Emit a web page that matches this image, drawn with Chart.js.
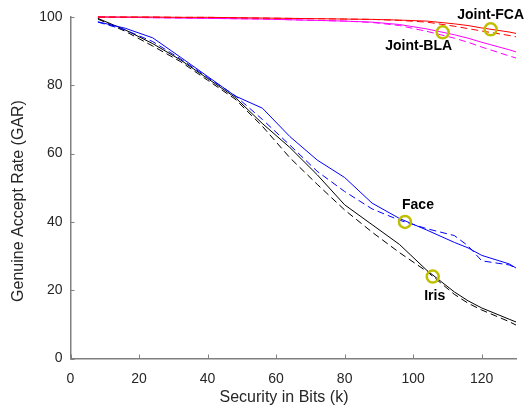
<!DOCTYPE html>
<html>
<head>
<meta charset="utf-8">
<script src="https://cdn.jsdelivr.net/npm/chart.js@4.4.1/dist/chart.umd.min.js"></script>
<style>
  html, body { margin: 0; padding: 0; background: #fff; }
  #wrap { width: 532px; height: 408px; }
</style>
</head>
<body>
<div id="wrap"><canvas id="garChart" width="532" height="408"></canvas></div>
<script>
// security in bits (x values shared by every curve)
const kBits = [8, 16, 24, 32, 40, 48, 56, 64, 72, 80, 88, 96, 104, 112, 116, 120, 128, 130];

// GAR curves
const irisSolid  = [99.6, 96.2, 92.2, 87.5, 82.0, 76.5, 68.8, 61.8, 53.8, 45.0, 39.2, 33.4, 25.8, 19.5, 16.9, 14.8, 11.5, 10.7];
const irisDashed = [99.4, 95.8, 91.5, 87.0, 81.5, 76.0, 68.0, 58.8, 51.0, 43.5, 37.0, 31.0, 25.5, 18.8, 16.2, 14.2, 10.8, 9.8];
const faceSolid  = [98.6, 96.7, 93.9, 88.3, 82.6, 76.9, 73.3, 65.0, 58.1, 53.0, 45.5, 41.0, 37.6, 34.0, 32.4, 30.2, 27.7, 26.5];
const faceDashed = [98.5, 96.2, 92.8, 87.8, 82.3, 77.0, 70.0, 62.5, 54.8, 48.9, 43.8, 40.5, 38.0, 36.0, 33.0, 28.6, 27.4, 26.5];
const fcaSolid   = [100, 100, 100, 99.9, 99.9, 99.8, 99.7, 99.6, 99.5, 99.4, 99.3, 99.1, 98.8, 98.0, 97.5, 96.8, 95.6, 95.2];
const fcaDashed  = [100, 100, 100, 99.9, 99.9, 99.8, 99.7, 99.6, 99.5, 99.4, 99.3, 99.0, 98.5, 97.3, 96.6, 95.9, 94.6, 94.2];
const blaSolid   = [100, 99.9, 99.8, 99.7, 99.6, 99.5, 99.4, 99.2, 99.0, 98.8, 98.5, 97.8, 96.5, 94.8, 93.8, 92.6, 90.4, 89.8];
const blaDashed  = [100, 99.9, 99.8, 99.7, 99.6, 99.5, 99.4, 99.2, 99.0, 98.8, 98.4, 97.5, 95.8, 93.8, 92.6, 91.2, 88.6, 88.0];

// annotated operating points
const markerNames = ["Joint-FCA", "Joint-BLA", "Face", "Iris"];
const markerK     = [122.6, 108.6, 97.6, 105.7];
const markerGar   = [96.4, 95.5, 40.0, 24.0];

// axis ticks
const xTickVals = [0, 20, 40, 60, 80, 100, 120];
const yTickVals = [0, 20, 40, 60, 80, 100];

const AXIS_GREY = "#808080";
const FONT = "'Liberation Sans', Arial, Helvetica, sans-serif";

function pts(ys) {
    return kBits.map((k, i) => ({ x: k, y: ys[i] }));
}

function curve(ys, color, dashed) {
    return {
        type: "line",
        data: pts(ys),
        borderColor: color,
        borderWidth: 1,
        borderDash: dashed ? [7, 4] : [],
        pointRadius: 0,
        fill: false,
        tension: 0,
        clip: 6,
    };
}

// label offsets from each marker, in pixels
const labelOffsets = [[0, -14], [-24, 14], [13, -17], [2, 20]];

const innerTicks = {
    id: "innerTicks",
    beforeDatasetsDraw(chart) {
        const ctx = chart.ctx;
        const xs = chart.scales.x, ys = chart.scales.y;
        const area = chart.chartArea;
        ctx.save();
        ctx.strokeStyle = AXIS_GREY;
        ctx.lineWidth = 1;
        ctx.beginPath();
        xTickVals.forEach(v => {
            const px = Math.round(xs.getPixelForValue(v)) + 0.5;
            ctx.moveTo(px, area.bottom);
            ctx.lineTo(px, area.bottom - 4);
        });
        yTickVals.forEach(v => {
            const py = Math.round(ys.getPixelForValue(v)) + 0.5;
            ctx.moveTo(area.left, py);
            ctx.lineTo(area.left + 4, py);
        });
        ctx.stroke();
        ctx.restore();
    }
};

const markerLabels = {
    id: "markerLabels",
    afterDatasetsDraw(chart) {
        const ctx = chart.ctx;
        const xs = chart.scales.x, ys = chart.scales.y;
        ctx.save();
        ctx.fillStyle = "#000";
        ctx.font = "bold 14px " + FONT;
        ctx.textAlign = "center";
        ctx.textBaseline = "middle";
        markerNames.forEach((name, i) => {
            const px = xs.getPixelForValue(markerK[i]) + labelOffsets[i][0];
            const py = ys.getPixelForValue(markerGar[i]) + labelOffsets[i][1];
            ctx.fillText(name, px, py);
        });

        // axis titles
        ctx.font = "16px " + FONT;
        ctx.fillStyle = "#262626";
        ctx.fillText("Security in Bits (k)", 284, 398);
        ctx.translate(19, 201);
        ctx.rotate(-Math.PI / 2);
        ctx.fillText("Genuine Accept Rate (GAR)", 0, 0);
        ctx.restore();
    }
};

const canvas = document.getElementById("garChart");
const ctx = canvas.getContext("2d");

new Chart(ctx, {
    type: "line",
    data: {
        datasets: [
            {
                type: "scatter",
                data: markerK.map((k, i) => ({ x: k, y: markerGar[i] })),
                pointStyle: "circle",
                pointRadius: 6,
                pointBorderWidth: 2.5,
                pointBorderColor: "#bfbf00",
                pointBackgroundColor: "rgba(0,0,0,0)",
                showLine: false,
                clip: false,
            },
            curve(fcaSolid, "#ff0000", false),
            curve(fcaDashed, "#ff0000", true),
            curve(blaSolid, "#ff00ff", false),
            curve(blaDashed, "#ff00ff", true),
            curve(faceSolid, "#0000ff", false),
            curve(faceDashed, "#0000ff", true),
            curve(irisSolid, "#000000", false),
            curve(irisDashed, "#000000", true),
        ],
    },
    options: {
        responsive: false,
        animation: false,
        events: [],
        layout: { padding: { left: 0, top: 17, right: 16, bottom: 0 } },
        plugins: {
            legend: { display: false },
            tooltip: { enabled: false },
        },
        scales: {
            x: {
                type: "linear",
                min: 0,
                max: 130,
                afterFit: s => { s.height = 49.5; },
                afterBuildTicks: s => { s.ticks = xTickVals.map(v => ({ value: v })); },
                grid: { display: false, drawTicks: false },
                border: { display: true, color: AXIS_GREY, width: 1.5 },
                ticks: {
                    padding: 12,
                    color: "#262626",
                    font: { family: FONT, size: 14 },
                    maxRotation: 0,
                },
            },
            y: {
                type: "linear",
                min: 0,
                max: 100,
                afterFit: s => { s.width = 70.5; },
                afterBuildTicks: s => { s.ticks = yTickVals.map(v => ({ value: v })); },
                grid: { display: false, drawTicks: false },
                border: { display: true, color: AXIS_GREY, width: 1.5 },
                ticks: {
                    padding: 8,
                    color: "#262626",
                    font: { family: FONT, size: 14 },
                },
            },
        },
    },
    plugins: [innerTicks, markerLabels],
});
</script>
</body>
</html>
